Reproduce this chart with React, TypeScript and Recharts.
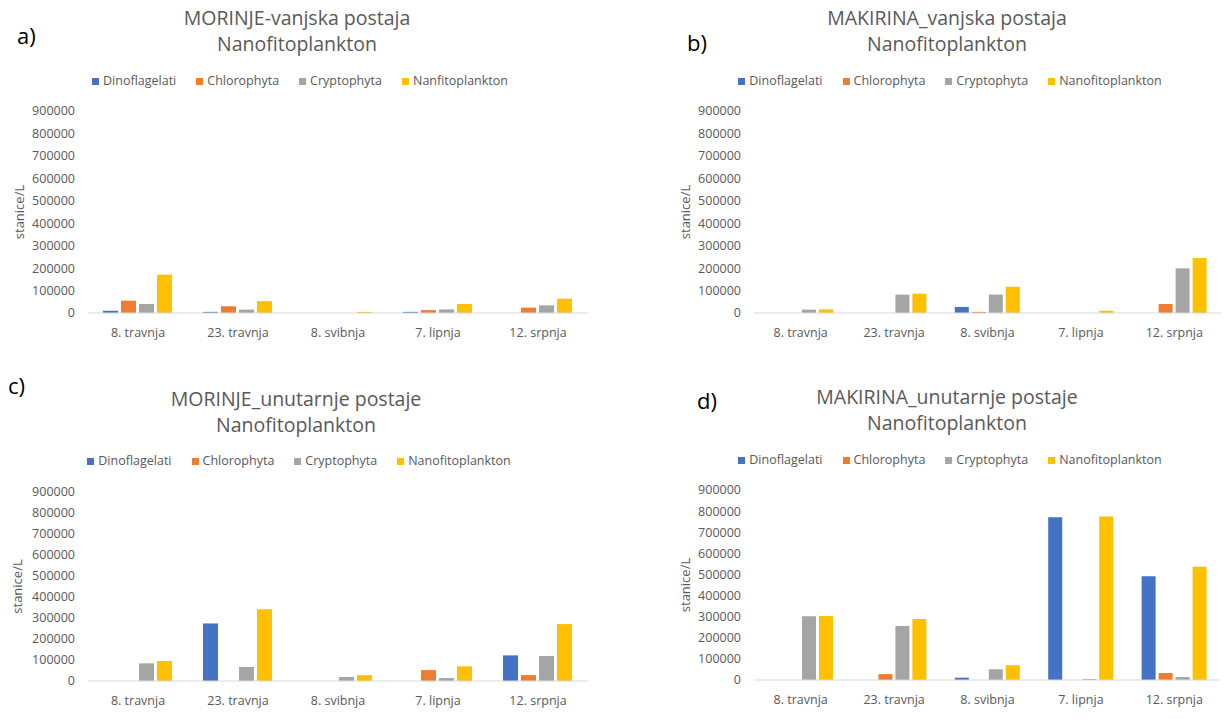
import { BarChart, Bar, XAxis, YAxis, Legend } from 'recharts';

const dates = ['8. travnja', '23. travnja', '8. svibnja', '7. lipnja', '12. srpnja'];
const yTicks = [0, 100000, 200000, 300000, 400000, 500000, 600000, 700000, 800000, 900000];
const seriesOrder = ['dino', 'chloro', 'crypto', 'nano'];

// a) MORINJE vanjska postaja
const aDino = [10000, 5000, 0, 5000, 0];
const aChloro = [55000, 30000, 0, 13000, 24000];
const aCrypto = [40000, 15000, 0, 16000, 34000];
const aNano = [171000, 53000, 5000, 40000, 64000];

// b) MAKIRINA vanjska postaja
const bDino = [0, 0, 27000, 0, 0];
const bChloro = [0, 0, 5000, 0, 40000];
const bCrypto = [15000, 82000, 82000, 0, 199000];
const bNano = [16000, 86000, 117000, 10000, 245000];

// c) MORINJE unutarnje postaje
const cDino = [0, 274000, 0, 0, 122000];
const cChloro = [0, 0, 0, 52000, 28000];
const cCrypto = [84000, 67000, 19000, 14000, 119000];
const cNano = [95000, 342000, 28000, 70000, 271000];

// d) MAKIRINA unutarnje postaje
const dDino = [0, 0, 11000, 771000, 491000];
const dChloro = [0, 28000, 0, 0, 33000];
const dCrypto = [302000, 256000, 51000, 5000, 14000];
const dNano = [303000, 289000, 70000, 774000, 537000];

const FONT = '"Open Sans", sans-serif';
const GREY = '#595959';

function build(dino: number[], chloro: number[], crypto: number[], nano: number[]) {
  return dates.map((d, i) => ({ date: d, dino: dino[i], chloro: chloro[i], crypto: crypto[i], nano: nano[i] }));
}

function Panel(props: any) {
  const { left, top, W, letter, letterX, letterY, title, titleTop, titleCenter, nanoName, data, plot, legendTop, legendCenter, labelX } = props;
  const H = 345;
  return (
    <div style={{ position: 'absolute', left, top, width: W, height: H }}>
      <div style={{ position: 'absolute', left: letterX, top: letterY - 15, fontSize: 22, lineHeight: '30px', fontFamily: FONT, color: '#000' }}>
        {letter}
      </div>
      <div
        style={{
          position: 'absolute',
          left: titleCenter - 200,
          width: 400,
          top: titleTop,
          textAlign: 'center',
          fontSize: 19.5,
          lineHeight: '26px',
          fontFamily: FONT,
          color: GREY,
        }}
      >
        {title.map((t: string) => (
          <div key={t}>{t}</div>
        ))}
      </div>
      <BarChart
        width={W}
        height={H}
        data={data}
        margin={{ top: plot.top, right: W - plot.right, left: 0, bottom: H - plot.bottom - 30 }}
        barCategoryGap="15%"
        barGap={3}
        style={{ fontFamily: FONT }}
      >
        <XAxis
          dataKey="date"
          height={30}
          tickLine={false}
          tickMargin={9}
          axisLine={{ stroke: '#d9d9d9', strokeWidth: 1 }}
          tick={{ fill: GREY, fontSize: 12.5 }}
          interval={0}
        />
        <YAxis
          width={plot.left}
          domain={[0, 900000]}
          ticks={yTicks}
          interval={0}
          axisLine={false}
          tickLine={false}
          tickMargin={7}
          tick={{ fill: GREY, fontSize: 12.5 }}
          label={{ value: 'stanice/L', angle: -90, position: 'insideLeft', offset: labelX, style: { textAnchor: 'middle', fill: GREY, fontSize: 13 } }}
        />
        <Legend
          verticalAlign="middle"
          align="center"
          iconType="square"
          iconSize={7}
          itemSorter={(item: any) => seriesOrder.indexOf(item.dataKey)}
          wrapperStyle={{ top: legendTop, left: legendCenter - 290, width: 580, fontSize: 12.5, lineHeight: '16px' }}
          formatter={(v: string) => <span style={{ color: GREY, marginRight: 10 }}>{v}</span>}
        />
        <Bar dataKey="dino" name="Dinoflagelati" fill="#4472C4" isAnimationActive={false} />
        <Bar dataKey="chloro" name="Chlorophyta" fill="#ED7D31" isAnimationActive={false} />
        <Bar dataKey="crypto" name="Cryptophyta" fill="#A5A5A5" isAnimationActive={false} />
        <Bar dataKey="nano" name={nanoName} fill="#FFC000" isAnimationActive={false} />
      </BarChart>
    </div>
  );
}

export default function App() {
  return (
    <div style={{ position: 'absolute', left: 0, top: 0, width: 1225, height: 719, background: '#fff', overflow: 'hidden' }}>
      <Panel
        left={0}
        top={0}
        W={600}
        letter="a)"
        letterX={17}
        letterY={35}
        title={['MORINJE-vanjska postaja', 'Nanofitoplankton']}
        titleTop={5}
        titleCenter={297}
        nanoName="Nanfitoplankton"
        data={build(aDino, aChloro, aCrypto, aNano)}
        plot={{ left: 88, right: 588, top: 111, bottom: 313 }}
        legendTop={73}
        legendCenter={310}
        labelX={19}
      />
      <Panel
        left={610}
        top={0}
        W={615}
        letter="b)"
        letterX={77}
        letterY={42}
        title={['MAKIRINA_vanjska postaja', 'Nanofitoplankton']}
        titleTop={5}
        titleCenter={337}
        nanoName="Nanofitoplankton"
        data={build(bDino, bChloro, bCrypto, bNano)}
        plot={{ left: 144, right: 611, top: 111, bottom: 313 }}
        legendTop={73}
        legendCenter={350}
        labelX={75}
      />
      <Panel
        left={0}
        top={370}
        W={600}
        letter="c)"
        letterX={8}
        letterY={15}
        title={['MORINJE_unutarnje postaje', 'Nanofitoplankton']}
        titleTop={16}
        titleCenter={296}
        nanoName="Nanofitoplankton"
        data={build(cDino, cChloro, cCrypto, cNano)}
        plot={{ left: 88, right: 588, top: 122, bottom: 311 }}
        legendTop={83}
        legendCenter={309}
        labelX={17}
      />
      <Panel
        left={610}
        top={370}
        W={615}
        letter="d)"
        letterX={87}
        letterY={30}
        title={['MAKIRINA_unutarnje postaje', 'Nanofitoplankton']}
        titleTop={14}
        titleCenter={337}
        nanoName="Nanofitoplankton"
        data={build(dDino, dChloro, dCrypto, dNano)}
        plot={{ left: 144, right: 611, top: 120, bottom: 310 }}
        legendTop={82}
        legendCenter={350}
        labelX={75}
      />
    </div>
  );
}
